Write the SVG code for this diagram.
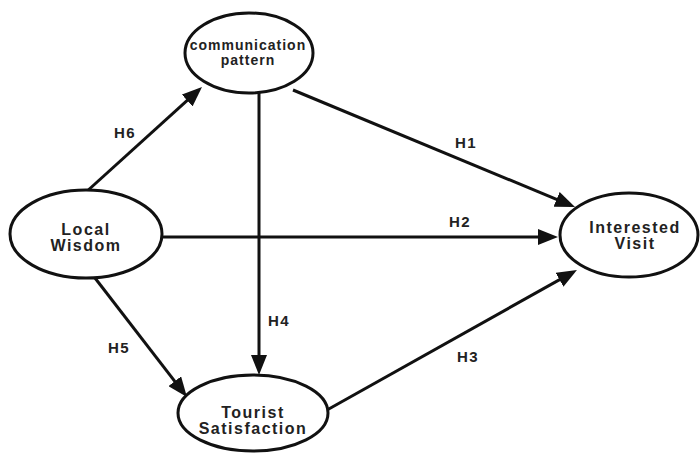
<svg xmlns="http://www.w3.org/2000/svg" width="700" height="457" viewBox="0 0 700 457">
<style>
.node{fill:#fff;stroke:#111;stroke-width:3}
.t{font-family:"Liberation Sans",Arial,sans-serif;font-weight:bold;font-size:16px;letter-spacing:1.5px;fill:#222;text-anchor:middle}
.ts{font-size:14px;letter-spacing:1px}
.lbl{font-family:"Liberation Sans",Arial,sans-serif;font-weight:bold;font-size:15px;letter-spacing:1.5px;fill:#222;text-anchor:middle}
.e{stroke:#111;stroke-width:3;fill:none;marker-end:url(#ah)}
</style>
<defs>
<marker id="ah" viewBox="0 0 20 16" refX="15" refY="8" markerWidth="20" markerHeight="16" markerUnits="userSpaceOnUse" orient="auto">
<path d="M0,0 L20,8 L0,16 Z" fill="#111"/>
</marker>
</defs>
<rect width="700" height="457" fill="#fff"/>
<g id="connectors">
<line class="e" x1="85" y1="193" x2="198.3" y2="90.4"/>
<line class="e" x1="293" y1="90" x2="570.4" y2="205.1"/>
<line class="e" x1="162" y1="237" x2="553" y2="237"/>
<line class="e" x1="327" y1="410" x2="572.6" y2="272.4"/>
<line class="e" x1="259" y1="93" x2="259" y2="370"/>
<line class="e" x1="95" y1="278" x2="183.9" y2="393.1"/>
<text class="lbl" x="125" y="137.5">H6</text>
<text class="lbl" x="466" y="147.5">H1</text>
<text class="lbl" x="460" y="226.5">H2</text>
<text class="lbl" x="468" y="361.5">H3</text>
<text class="lbl" x="279" y="325.5">H4</text>
<text class="lbl" x="119" y="352.5">H5</text>
</g>
<g id="communication-pattern">
<ellipse class="node" cx="249" cy="53" rx="64" ry="40"/>
<text class="t ts" x="248" y="50">communication</text>
<text class="t ts" x="248" y="65">pattern</text>
</g>
<g id="local-wisdom">
<ellipse class="node" cx="86" cy="234" rx="76" ry="44"/>
<text class="t" x="86" y="235">Local</text>
<text class="t" x="86" y="251">Wisdom</text>
</g>
<g id="interested-visit">
<ellipse class="node" cx="629" cy="235" rx="69" ry="42"/>
<text class="t" x="635" y="233">Interested</text>
<text class="t" x="635" y="249">Visit</text>
</g>
<g id="tourist-satisfaction">
<ellipse class="node" cx="253" cy="413" rx="75" ry="38"/>
<text class="t" x="253" y="418">Tourist</text>
<text class="t" x="253" y="434">Satisfaction</text>
</g>
</svg>
